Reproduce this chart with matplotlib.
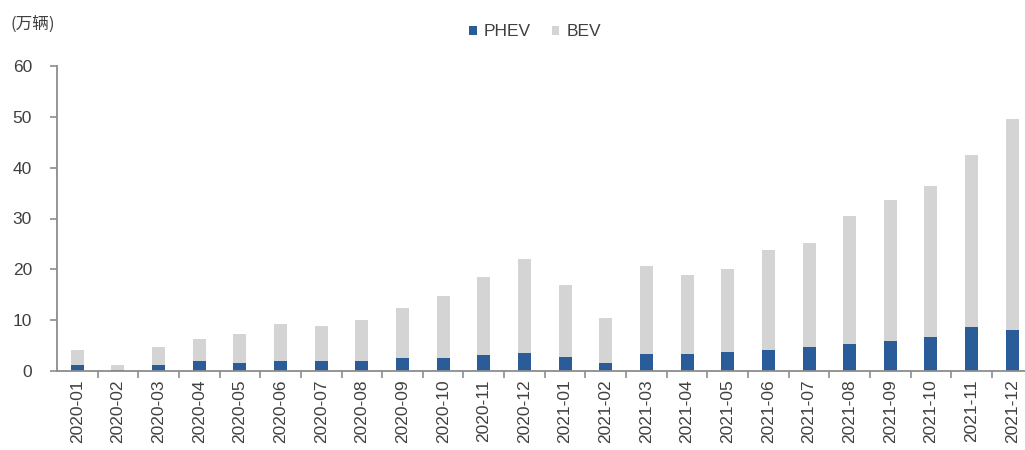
import matplotlib.pyplot as plt
import numpy as np

plt.rcParams['font.family'] = ['Liberation Sans', 'Noto Sans CJK SC', 'DejaVu Sans']

months = ['2020-01', '2020-02', '2020-03', '2020-04', '2020-05', '2020-06',
          '2020-07', '2020-08', '2020-09', '2020-10', '2020-11', '2020-12',
          '2021-01', '2021-02', '2021-03', '2021-04', '2021-05', '2021-06',
          '2021-07', '2021-08', '2021-09', '2021-10', '2021-11', '2021-12']
# monthly sales, 10k units
phev = [1.2, 0.1, 1.2, 1.9, 1.6, 1.9, 1.9, 1.9, 2.6, 2.6, 3.2, 3.5,
        2.8, 1.6, 3.4, 3.3, 3.7, 4.2, 4.8, 5.4, 6.0, 6.6, 8.6, 8.1]
total = [4.1, 1.2, 4.7, 6.3, 7.3, 9.2, 8.8, 10.0, 12.4, 14.7, 18.5, 22.1,
         16.9, 10.4, 20.7, 18.8, 20.1, 23.9, 25.2, 30.4, 33.7, 36.4, 42.5, 49.5]
bev = [t - p for t, p in zip(total, phev)]

blue = '#2b5c9a'
grey = '#d4d4d4'
axis_col = '#8c8c8c'
text_col = '#404040'

fig = plt.figure(figsize=(10.25, 4.5), dpi=100)
ax = fig.add_axes([57 / 1025, 1 - 371 / 450, 975.6 / 1025, 305 / 450])

x = np.arange(len(months))
ax.bar(x, phev, width=0.32, color=blue, label='PHEV')
ax.bar(x, bev, width=0.32, bottom=phev, color=grey, label='BEV')

ax.set_xlim(-0.5, len(months) - 0.5)
ax.set_ylim(0, 60)
ax.set_yticks(range(0, 61, 10))

for s in ['top', 'right']:
    ax.spines[s].set_visible(False)
for s in ['left', 'bottom']:
    ax.spines[s].set_color(axis_col)
    ax.spines[s].set_linewidth(1.3)

ax.set_xticks(x)
ax.set_xticklabels(months, rotation=90, fontsize=12.5, color=text_col)
ax.set_xticks(x[:-1] + 0.5, minor=True)
ax.tick_params(axis='x', which='major', length=0, pad=6)
ax.tick_params(axis='x', which='minor', length=5, width=1.2, color=axis_col, direction='out')
ax.tick_params(axis='y', length=5, width=1.2, color=axis_col, pad=13,
               labelsize=12.5, labelcolor=text_col)

fig.text(10 / 1025, 1 - 24 / 450, '(万辆)', fontsize=12, color=text_col, va='center',
         family=['Noto Sans CJK SC', 'DejaVu Sans'])

fig.legend(loc='center', bbox_to_anchor=(535 / 1025, 1 - 32 / 450), ncol=2, frameon=False,
           fontsize=12.5, handlelength=0.45, handleheight=0.45, handletextpad=0.4,
           columnspacing=1.2, labelcolor=text_col)

fig.savefig('out.png', dpi=100)
